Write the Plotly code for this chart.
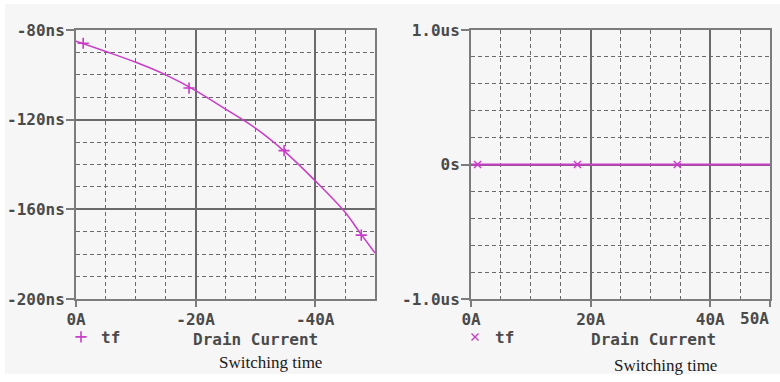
import plotly.graph_objects as go
from plotly.subplots import make_subplots

# ---- data (left: tf vs drain current, ns) ----
left_current = [0, -5, -10, -15, -20, -25, -30, -35, -40, -45, -47.5, -50]
left_tf_ns = [-85.0, -89.6, -94.4, -100.0, -107.0, -115.3, -123.8, -134.5, -147.3, -161.3, -170.5, -179.5]
left_mark_current = [-1.2, -18.9, -34.8, -47.7]
left_mark_tf_ns = [-85.9, -105.9, -133.8, -171.5]

left_ytick_vals = [-80, -120, -160, -200]
left_ytick_text = ["-80ns", "-120ns", "-160ns", "-200ns"]
left_xtick_vals = [0, -20, -40]
left_xtick_text = ["0A", "-20A", "-40A"]

# ---- data (right: tf vs drain current, us) ----
right_current = [0, 10, 20, 30, 40, 50]
right_tf_us = [0, 0, 0, 0, 0, 0]
right_mark_current = [1.1, 17.8, 34.5]
right_mark_tf_us = [0, 0, 0]

right_ytick_vals = [-1, 0, 1]
right_ytick_text = ["-1.0us", "0s", "1.0us"]
right_xtick_vals = [0, 20, 40, 50]
right_xtick_text = ["0A", "20A", "40A", "50A"]

W, H = 780, 382
TRACE = "#c83cc8"
FRAME = "#7c7c7c"
GRID = "#6a6a6a"
TXT = "#4a4a4a"
BG = "#f6f6f6"
MONO = "DejaVu Sans Mono"
FS = 16

fig = make_subplots(rows=1, cols=2)

fig.add_trace(go.Scatter(x=left_current, y=left_tf_ns, mode="lines",
                         line=dict(color=TRACE, width=1.5, shape="spline"),
                         showlegend=False, hoverinfo="skip"), row=1, col=1)
fig.add_trace(go.Scatter(x=left_mark_current, y=left_mark_tf_ns, mode="markers", name="tf",
                         marker=dict(symbol="cross-thin-open", size=8, color=TRACE,
                                     line=dict(color=TRACE, width=1.6)),
                         legend="legend"), row=1, col=1)

fig.add_trace(go.Scatter(x=right_current, y=right_tf_us, mode="lines",
                         line=dict(color=TRACE, width=1.8),
                         showlegend=False, hoverinfo="skip"), row=1, col=2)
fig.add_trace(go.Scatter(x=right_mark_current, y=right_mark_tf_us, mode="markers", name="tf",
                         marker=dict(symbol="x-thin-open", size=7, color=TRACE,
                                     line=dict(color=TRACE, width=1.4)),
                         legend="legend2"), row=1, col=2)

tickfont = dict(family=MONO, size=FS, color=TXT, weight="bold")

def axis_common():
    return dict(showline=True, mirror=True, linecolor=FRAME, linewidth=2,
                ticks="outside", tickcolor=FRAME, tickwidth=1.5,
                showgrid=True, gridcolor=GRID, gridwidth=1.5,
                zeroline=False, tickfont=tickfont, tickmode="array",
                automargin=False, ticklabeloverflow="allow")

minor_style = dict(showgrid=True, gridcolor=GRID, griddash="4px,3px", gridwidth=1.3, ticklen=0)

xd1 = [76 / W, 375 / W]
xd2 = [471 / W, 770 / W]
yd = [1 - 299 / H, 1 - 30 / H]

fig.update_xaxes(**axis_common(), domain=xd1, range=[0, -50], ticklen=6, ticklabelstandoff=-1,
                 tickvals=left_xtick_vals, ticktext=left_xtick_text,
                 minor=dict(**minor_style, tickmode="linear", tick0=0, dtick=5), row=1, col=1)
fig.update_yaxes(**axis_common(), domain=yd, range=[-200, -80], ticklen=8, ticklabelstandoff=-2,
                 tickvals=left_ytick_vals, ticktext=left_ytick_text,
                 minor=dict(**minor_style, tickmode="linear", tick0=0, dtick=10), row=1, col=1)
# the last label (at the right frame edge) is drawn right-aligned as an annotation below
fig.update_xaxes(**axis_common(), domain=xd2, range=[0, 50], ticklen=6, ticklabelstandoff=-1,
                 tickvals=right_xtick_vals, ticktext=right_xtick_text[:-1] + [""],
                 minor=dict(**minor_style, tickmode="linear", tick0=0, dtick=5), row=1, col=2)
fig.update_yaxes(**axis_common(), domain=yd, range=[-1, 1], ticklen=8, ticklabelstandoff=-2,
                 tickvals=right_ytick_vals, ticktext=right_ytick_text,
                 minor=dict(**minor_style, tickmode="linear", tick0=0, dtick=0.2), row=1, col=2)

legend_common = dict(orientation="v", bgcolor="rgba(0,0,0,0)", borderwidth=0,
                     font=dict(family=MONO, size=FS, color=TXT, weight="bold"),
                     itemwidth=30, yanchor="middle", xanchor="left")
fig.update_layout(
    width=W, height=H,
    margin=dict(l=0, r=0, t=0, b=0),
    paper_bgcolor="white", plot_bgcolor=BG,
    legend=dict(**legend_common, x=61 / W, y=1 - 337 / H),
    legend2=dict(**legend_common, x=455 / W, y=1 - 337 / H),
    shapes=[dict(type="rect", xref="paper", yref="paper", x0=5 / W, x1=1, y0=1 - 374 / H, y1=1 - 4 / H,
                 fillcolor=BG, line=dict(width=0), layer="below")],
    annotations=[
        dict(text=right_xtick_text[-1], xref="x2", yref="paper", x=right_xtick_vals[-1], y=1 - 318 / H,
             showarrow=False, xanchor="right", yanchor="middle", xshift=1,
             font=dict(family=MONO, size=FS, color=TXT, weight="bold")),
        dict(text="Drain Current", xref="paper", yref="paper", x=255 / W, y=1 - 339 / H,
             showarrow=False, xanchor="center", yanchor="middle",
             font=dict(family=MONO, size=FS, color=TXT, weight="bold")),
        dict(text="Drain Current", xref="paper", yref="paper", x=653.5 / W, y=1 - 339 / H,
             showarrow=False, xanchor="center", yanchor="middle",
             font=dict(family=MONO, size=FS, color=TXT, weight="bold")),
        dict(text="Switching time", xref="paper", yref="paper", x=270 / W, y=1 - 362 / H,
             showarrow=False, xanchor="center", yanchor="middle",
             font=dict(family="Liberation Serif", size=17, color="#1a1a1a")),
        dict(text="Switching time", xref="paper", yref="paper", x=665 / W, y=1 - 365 / H,
             showarrow=False, xanchor="center", yanchor="middle",
             font=dict(family="Liberation Serif", size=17, color="#1a1a1a")),
    ],
)

fig.write_html("out.html")
